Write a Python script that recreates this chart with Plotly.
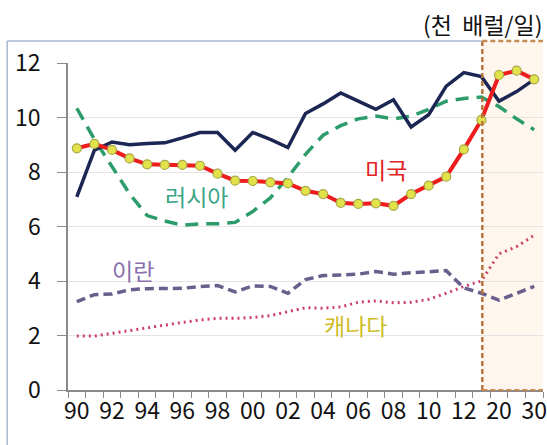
import plotly.graph_objects as go

# categories: 1990-2013, then projections 2020 / 2025 / 2030
years = ['90', '91', '92', '93', '94', '95', '96', '97', '98', '99',
         '00', '01', '02', '03', '04', '05', '06', '07', '08', '09',
         '10', '11', '12', '13', '20', '25', '30']
tick_labels = ['90', '', '92', '', '94', '', '96', '', '98', '',
               '00', '', '02', '', '04', '', '06', '', '08', '',
               '10', '', '12', '', '20', '', '30']

# production, thousand barrels/day
saudi = [7.09, 8.8, 9.1, 9.0, 9.05, 9.07, 9.25, 9.45, 9.45, 8.8,
         9.45, 9.2, 8.9, 10.15, 10.5, 10.9, 10.6, 10.3, 10.65, 9.65,
         10.1, 11.15, 11.65, 11.5, 10.6, 10.95, 11.4]
usa = [8.87, 9.03, 8.81, 8.5, 8.28, 8.26, 8.26, 8.23, 7.94, 7.68,
       7.67, 7.62, 7.58, 7.31, 7.19, 6.87, 6.83, 6.85, 6.76, 7.19,
       7.5, 7.83, 8.83, 9.91, 11.56, 11.72, 11.4]
russia = [10.34, 9.2, 8.2, 7.2, 6.4, 6.2, 6.05, 6.1, 6.1, 6.15,
          6.55, 7.05, 7.8, 8.65, 9.35, 9.7, 9.95, 10.05, 9.95, 10.05,
          10.3, 10.6, 10.7, 10.75, 10.4, 9.95, 9.55]
iran = [3.24, 3.5, 3.52, 3.68, 3.72, 3.73, 3.73, 3.8, 3.83, 3.6,
        3.82, 3.8, 3.55, 4.05, 4.2, 4.22, 4.25, 4.35, 4.25, 4.3,
        4.35, 4.38, 3.75, 3.55, 3.3, 3.55, 3.8]
canada = [1.98, 1.98, 2.08, 2.18, 2.28, 2.4, 2.48, 2.57, 2.63, 2.63,
          2.66, 2.73, 2.88, 3.02, 3.0, 3.05, 3.22, 3.27, 3.2, 3.22,
          3.33, 3.55, 3.8, 4.0, 5.0, 5.26, 5.68]

KR = 'Noto Sans CJK KR'

fig = go.Figure()

fig.add_trace(go.Scatter(x=years, y=canada, mode='lines',
                         line=dict(color='#cc3f6c', width=3, dash='2px,4px')))
fig.add_trace(go.Scatter(x=years, y=iran, mode='lines',
                         line=dict(color='#6a5f8c', width=3.5, dash='9px,5px')))
fig.add_trace(go.Scatter(x=years, y=russia, mode='lines',
                         line=dict(color='#2c9c6a', width=3.5, dash='13px,8px')))
fig.add_trace(go.Scatter(x=years, y=saudi, mode='lines',
                         line=dict(color='#1b2752', width=3.5)))
fig.add_trace(go.Scatter(x=years, y=usa, mode='lines+markers',
                         line=dict(color='#ee1c1c', width=4),
                         marker=dict(size=9, color='#e2e24a',
                                     line=dict(color='#a8a848', width=1.2))))

# projection box
fig.add_shape(type='rect', xref='x', yref='paper', x0=23.05, x1=26.6, y0=0, y1=1.067,
              line=dict(width=0), fillcolor='rgba(255,236,210,0.4)', layer='below')
fig.add_shape(type='line', xref='x', yref='paper', x0=23.05, x1=23.05, y0=0, y1=1.067,
              line=dict(color='#b8743a', width=2.5, dash='5px,3px'))
fig.add_shape(type='line', xref='x', yref='paper', x0=23.05, x1=26.6, y0=1.067, y1=1.067,
              line=dict(color='#c98a50', width=2.5, dash='5px,3px'))
fig.add_shape(type='line', xref='x', yref='paper', x0=23.05, x1=26.6, y0=0, y1=0,
              line=dict(color='#c98a50', width=2, dash='5px,3px'))
fig.add_shape(type='line', xref='x', yref='paper', x0=26.6, x1=26.6, y0=0, y1=1.067,
              line=dict(color='#f5c890', width=2))

# outer chart border
fig.add_shape(type='line', xref='paper', yref='paper', x0=-0.128, x1=-0.128, y0=-0.2, y1=1.067,
              line=dict(color='#aab6d0', width=1.5))
fig.add_shape(type='line', xref='paper', yref='paper', x0=-0.128, x1=0.871, y0=1.067, y1=1.067,
              line=dict(color='#aab6d0', width=1.5))

labels = [
    ('사우디아라비아', 15.1, 12.04, '#34406a'),
    ('러시아', 6.8, 7.12, '#3aa585'),
    ('미국', 17.56, 8.11, '#e02424'),
    ('이란', 3.18, 4.40, '#8a6fae'),
    ('캐나다', 15.85, 2.39, '#cdbd2a'),
]
for txt, xx, yy, col in labels:
    fig.add_annotation(x=xx, y=yy, xref='x', yref='y', text=txt, showarrow=False,
                       font=dict(family=KR, size=23, color=col))

fig.add_annotation(x=1.004, y=1.12, xref='paper', yref='paper', xanchor='right',
                   yanchor='middle', text='(천&nbsp;&nbsp;배럴/일)', showarrow=False,
                   font=dict(family=KR, size=23, color='#111111'))

fig.update_layout(
    width=547, height=445,
    margin=dict(l=68, r=4, t=63, b=55, autoexpand=False),
    paper_bgcolor='white', plot_bgcolor='white',
    showlegend=False,
    font=dict(family=KR, size=22, color='#111111'),
)
fig.update_xaxes(
    type='category', range=[-0.5, 26.5], automargin=False,
    tickvals=years, ticktext=tick_labels, tickson='boundaries',
    ticks='outside', ticklen=6, tickcolor='#8a8a8a',
    showline=True, linecolor='#8a8a8a', linewidth=1.5,
    showgrid=False, tickangle=0,
    tickfont=dict(family=KR, size=23, color='#111111'),
)
fig.update_yaxes(
    range=[0, 12], tickvals=[0, 2, 4, 6, 8, 10, 12], automargin=False,
    ticks='outside', ticklen=9, tickcolor='#8a8a8a', ticklabelstandoff=12,
    showline=True, linecolor='#8a8a8a', linewidth=1.5,
    showgrid=True, gridcolor='#e4e4e4', gridwidth=1, zeroline=False,
    tickfont=dict(family=KR, size=23, color='#111111'),
)

fig.write_html('out.html', config={'displayModeBar': False},
               post_script="document.body.style.margin='0';")
